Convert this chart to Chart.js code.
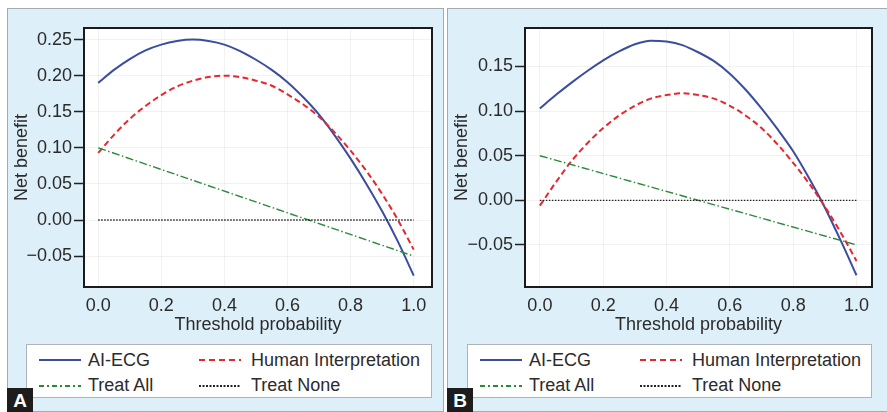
<!DOCTYPE html>
<html>
<head>
<meta charset="utf-8">
<script src="https://cdn.jsdelivr.net/npm/chart.js@4.4.1/dist/chart.umd.min.js"></script>
<style>
  body { margin: 0; width: 887px; height: 412px; background: #fff; position: relative; overflow: hidden; font-family: "Liberation Sans", Arial, sans-serif; }
  .panel { position: absolute; top: 8px; height: 404px; background: #ddeff8; border: 1.5px solid #a4abaf; box-sizing: border-box; }
  canvas { position: absolute; }
  .legend { position: absolute; top: 344px; height: 54px; background: #fff; border: 1.5px solid #adb3b7; box-sizing: border-box; }
  .legend svg { position: absolute; }
  .legend span { position: absolute; font-size: 18px; line-height: 20px; color: #2b2b2b; white-space: nowrap; }
  .tag { position: absolute; top: 388px; width: 26px; height: 24px; background: #1d1d1d; color: #fff; font: bold 19px "Liberation Sans", Arial, sans-serif; text-align: center; line-height: 26px; }
</style>
</head>
<body>
<div class="panel" style="left:7px; width:437px;"></div>
<div class="panel" style="left:447px; width:442px;"></div>
<canvas id="chartA" width="436" height="330" style="left:7px; top:8px;"></canvas>
<canvas id="chartB" width="440" height="330" style="left:447px; top:8px;"></canvas>
<div class="legend" id="legendA" style="left:26px; width:406px;"></div>
<div class="legend" id="legendB" style="left:467px; width:405px;"></div>
<div class="tag" style="left:7px;">A</div>
<div class="tag" style="left:447px;">B</div>
<script>
// threshold probabilities for the model curves
const thresholds = [0, 0.05, 0.1, 0.15, 0.2, 0.25, 0.3, 0.35, 0.4, 0.45, 0.5,
                    0.55, 0.6, 0.65, 0.7, 0.75, 0.8, 0.85, 0.9, 0.95, 1.0];
// end points for the reference strategies
const refX = [0, 1.0];

// panel A
const aiEcgA     = [0.190, 0.208, 0.223, 0.235, 0.243, 0.248, 0.250, 0.248, 0.243, 0.234, 0.222,
                    0.208, 0.191, 0.170, 0.146, 0.117, 0.085, 0.050, 0.012, -0.030, -0.077];
const humanA     = [0.093, 0.118, 0.140, 0.158, 0.173, 0.185, 0.193, 0.198, 0.200, 0.198, 0.193,
                    0.186, 0.174, 0.160, 0.143, 0.121, 0.096, 0.068, 0.036, 0.000, -0.041];
const treatAllA  = [0.100, -0.050];
const treatNoneA = [0, 0];

// panel B
const aiEcgB     = [0.103, 0.118, 0.132, 0.145, 0.157, 0.167, 0.175, 0.179, 0.178, 0.174, 0.166,
                    0.156, 0.142, 0.124, 0.103, 0.080, 0.055, 0.025, -0.008, -0.045, -0.084];
const humanB     = [-0.006, 0.020, 0.044, 0.064, 0.081, 0.095, 0.106, 0.114, 0.118, 0.120, 0.118,
                    0.114, 0.106, 0.095, 0.081, 0.063, 0.042, 0.019, -0.007, -0.036, -0.068];
const treatAllB  = [0.050, -0.050];
const treatNoneB = [0, 0];

const seriesNames = ['AI-ECG', 'Human Interpretation', 'Treat All', 'Treat None'];
const xTicks = [0, 0.2, 0.4, 0.6, 0.8, 1.0];
const yTicksA = [-0.05, 0, 0.05, 0.10, 0.15, 0.20, 0.25];
const yTicksB = [-0.05, 0, 0.05, 0.10, 0.15];

const lineStyles = [
    { color: '#3a4d9f', width: 2,   dash: [],                 legendDash: [] },
    { color: '#e8262c', width: 2,   dash: [6, 3.5],           legendDash: [6, 4] },
    { color: '#2a8a3c', width: 1.4, dash: [8, 2.5, 1.5, 2.5], legendDash: [5, 3, 2, 3] },
    { color: '#222222', width: 1.3, dash: [1.5, 1.5],         legendDash: [2, 1.5] }
];

const FONT = '"Liberation Sans", Arial, sans-serif';
const TEXT = '#2b2b2b';

// white plot area with a black frame
const plotFrame = {
    id: 'plotFrame',
    beforeDraw(chart) {
        const a = chart.chartArea;
        const ctx = chart.ctx;
        ctx.save();
        ctx.fillStyle = '#fff';
        ctx.fillRect(a.left, a.top, a.right - a.left, a.bottom - a.top);
        ctx.restore();
    },
    afterDraw(chart) {
        const a = chart.chartArea;
        const ctx = chart.ctx;
        ctx.save();
        ctx.strokeStyle = '#1b1b1b';
        ctx.lineWidth = 2;
        ctx.strokeRect(a.left, a.top, a.right - a.left, a.bottom - a.top);
        ctx.restore();
    }
};

function fmtY(v) {
    return (v < -1e-9 ? '\u2212' : '') + Math.abs(v).toFixed(2);
}

function makeChart(id, series, yTicks, xRange, yRange, yWidth, padRight) {
    const datasets = series.map((vals, i) => {
        const xs = i < 2 ? thresholds : refX;
        return {
            label: seriesNames[i],
            data: xs.map((t, k) => ({ x: t, y: vals[k] })),
            borderColor: lineStyles[i].color,
            borderWidth: lineStyles[i].width,
            borderDash: lineStyles[i].dash,
            pointRadius: 0,
            cubicInterpolationMode: 'monotone',
            fill: false
        };
    });
    // reference strategies underneath, models on top
    datasets.reverse();

    return new Chart(document.getElementById(id), {
        type: 'line',
        data: { datasets },
        options: {
            responsive: false,
            animation: false,
            events: [],
            layout: { padding: { left: 0, right: padRight, top: 20, bottom: 0 } },
            plugins: { legend: { display: false }, tooltip: { enabled: false } },
            scales: {
                x: {
                    type: 'linear',
                    min: xRange[0],
                    max: xRange[1],
                    afterBuildTicks: s => { s.ticks = xTicks.map(v => ({ value: v })); },
                    afterFit: s => { s.height = 51; },
                    border: { display: false },
                    grid: { color: 'rgba(0,0,0,0.05)', drawTicks: false },
                    ticks: {
                        padding: 8,
                        maxRotation: 0,
                        color: TEXT,
                        font: { family: FONT, size: 18 },
                        callback: v => v.toFixed(1)
                    },
                    title: {
                        display: true,
                        text: 'Threshold probability',
                        color: TEXT,
                        font: { family: FONT, size: 18 },
                        padding: { top: 0, bottom: 2 }
                    }
                },
                y: {
                    min: yRange[0],
                    max: yRange[1],
                    afterBuildTicks: s => { s.ticks = yTicks.map(v => ({ value: v })); },
                    afterFit: s => { s.width = yWidth; },
                    border: { display: false },
                    grid: { color: 'rgba(0,0,0,0.05)', tickColor: '#222', tickLength: 10, tickWidth: 1.5 },
                    ticks: {
                        padding: 2,
                        color: TEXT,
                        font: { family: FONT, size: 18 },
                        callback: v => fmtY(v)
                    },
                    title: {
                        display: true,
                        text: 'Net benefit',
                        color: TEXT,
                        font: { family: FONT, size: 18 },
                        padding: { top: 4, bottom: 0 }
                    }
                }
            }
        },
        plugins: [plotFrame]
    });
}

function buildLegend(id) {
    const box = document.getElementById(id);
    const cols = [{ sx: 12, tx: 61 }, { sx: 172, tx: 224 }];
    const rows = [15, 40.5];
    seriesNames.forEach((name, i) => {
        const c = cols[i % 2];
        const r = rows[Math.floor(i / 2)];
        const st = lineStyles[i];
        const svg = document.createElementNS('http://www.w3.org/2000/svg', 'svg');
        svg.setAttribute('width', 42);
        svg.setAttribute('height', 8);
        svg.style.left = c.sx + 'px';
        svg.style.top = (r - 4) + 'px';
        const ln = document.createElementNS('http://www.w3.org/2000/svg', 'line');
        ln.setAttribute('x1', 0);
        ln.setAttribute('x2', 42);
        ln.setAttribute('y1', 4);
        ln.setAttribute('y2', 4);
        ln.setAttribute('stroke', st.color);
        ln.setAttribute('stroke-width', i === 3 ? 2 : 2.2);
        if (st.legendDash.length) ln.setAttribute('stroke-dasharray', st.legendDash.join(' '));
        svg.appendChild(ln);
        box.appendChild(svg);
        const sp = document.createElement('span');
        sp.textContent = name;
        sp.style.left = c.tx + 'px';
        sp.style.top = (r - 10.5) + 'px';
        box.appendChild(sp);
    });
}

makeChart('chartA', [aiEcgA, humanA, treatAllA, treatNoneA], yTicksA,
    [-0.045, 1.058], [-0.0928, 0.266], 77, 11);
makeChart('chartB', [aiEcgB, humanB, treatAllB, treatNoneB], yTicksB,
    [-0.047, 1.049], [-0.0972, 0.1932], 78, 15);
buildLegend('legendA');
buildLegend('legendB');
</script>
</body>
</html>
